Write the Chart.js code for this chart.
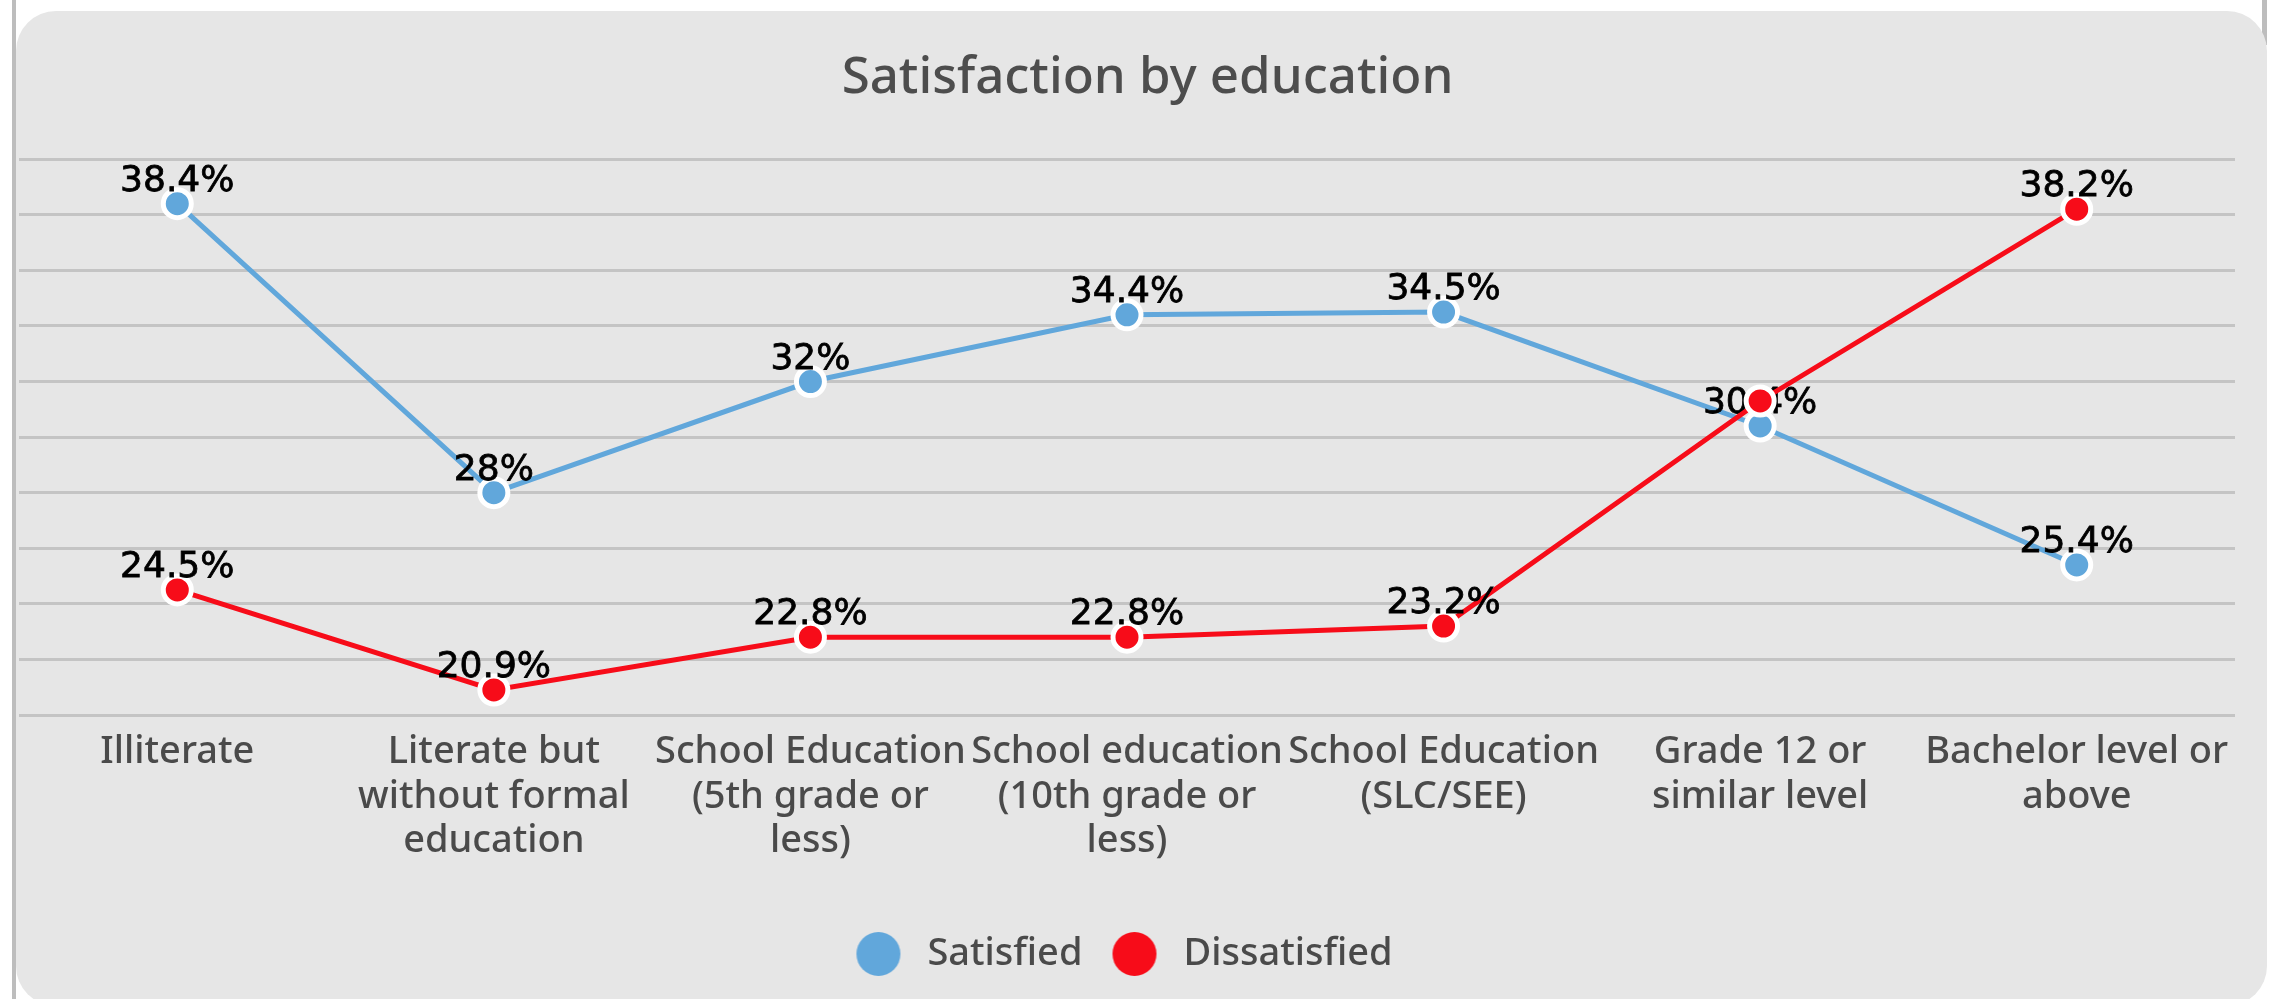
<!DOCTYPE html>
<html>
<head>
<meta charset="utf-8">
<script src="https://cdn.jsdelivr.net/npm/chart.js@4.4.1/dist/chart.umd.min.js"></script>
<style>
  html, body { margin: 0; padding: 0; background: #fff; width: 2281px; height: 999px; overflow: hidden; }
  .bar-left { position: absolute; left: 12px; top: 0; width: 4px; height: 999px; background: #bdbdbd; }
  .bar-right { position: absolute; left: 2262px; top: 0; width: 5px; height: 45px; background: #bdbdbd; }
  .card { position: absolute; left: 16px; top: 11px; width: 2251px; height: 995px; background: #e6e6e6; border-radius: 40px; }
  .wrap { position: absolute; left: 0; top: 0; width: 2281px; height: 999px; }
</style>
</head>
<body>
<div class="bar-left"></div>
<div class="bar-right"></div>
<div class="card"></div>
<div class="wrap"><canvas id="myChart"></canvas></div>
<script>
// data
const categories = [
  'Illiterate',
  ['Literate but', 'without formal', 'education'],
  ['School Education', '(5th grade or', 'less)'],
  ['School education', '(10th grade or', 'less)'],
  ['School Education', '(SLC/SEE)'],
  ['Grade 12 or', 'similar level'],
  ['Bachelor level or', 'above']
];
const satisfied = [38.4, 28, 32, 34.4, 34.5, 30.4, 25.4];
const dissatisfied = [24.5, 20.9, 22.8, 22.8, 23.2, 31.3, 38.2];
const seriesNames = ['Satisfied', 'Dissatisfied'];
const yMin = 20, yMax = 40, yStep = 2;

const blue = '#61a7db';
const red = '#f70c19';
const textGrey = '#4a4a4a';

// legend dots: circle with some room on the left so the gaps look right
function makeDot(color) {
  const c = document.createElement('canvas');
  c.width = 72; c.height = 44;
  const g = c.getContext('2d');
  g.fillStyle = color;
  g.beginPath();
  g.arc(42, 22, 22, 0, Math.PI * 2);
  g.fill();
  return c;
}
const legendDots = [makeDot(blue), makeDot(red)];

// value labels drawn after each dataset, skipping ones that would collide
const pointLabels = {
  id: 'pointLabels',
  beforeDatasetsDraw(chart) { chart.$labelBoxes = []; },
  afterDatasetDraw(chart, args) {
    const ctx = chart.ctx;
    const ds = chart.data.datasets[args.index];
    ctx.save();
    ctx.font = '36px "DejaVu Sans"';
    ctx.fillStyle = '#000';
    ctx.strokeStyle = '#000';
    ctx.lineWidth = 0.8;
    ctx.textAlign = 'center';
    ctx.textBaseline = 'alphabetic';
    args.meta.data.forEach((pt, i) => {
      const text = ds.data[i] + '%';
      const w = ctx.measureText(text).width;
      const box = {l: pt.x - w / 2, r: pt.x + w / 2, t: pt.y - 13 - 26, b: pt.y - 13};
      const hit = chart.$labelBoxes.some(o => box.l < o.r && box.r > o.l && box.t < o.b && box.b > o.t);
      if (hit) return;
      chart.$labelBoxes.push(box);
      ctx.fillText(text, pt.x, pt.y - 13);
      ctx.strokeText(text, pt.x, pt.y - 13);
    });
    ctx.restore();
  }
};

// nudge title / legend to where they sit in the original
const nudge = {
  id: 'nudge',
  afterLayout(chart) {
    chart.titleBlock.left += 25;
    chart.titleBlock.right += 25;
    chart.legend.left -= 8;
    chart.legend.right -= 8;
  }
};

function lineSet(name, values, color, order) {
  return {
    label: name,
    data: values,
    borderColor: color,
    backgroundColor: color,
    borderWidth: 5,
    tension: 0,
    pointRadius: 14,
    pointHoverRadius: 14,
    pointBorderWidth: 5,
    pointBorderColor: '#fff',
    pointBackgroundColor: color,
    order: order
  };
}

const data = {
  labels: categories,
  datasets: [
    lineSet(seriesNames[0], satisfied, blue, 2),
    lineSet(seriesNames[1], dissatisfied, red, 1)
  ]
};

const config = {
  type: 'line',
  data: data,
  options: {
    responsive: true,
    maintainAspectRatio: false,
    devicePixelRatio: 1,
    animation: false,
    layout: { padding: { left: 10, right: 46, top: 0, bottom: 16 } },
    scales: {
      x: {
        offset: true,
        grid: { display: false, drawTicks: false },
        border: { display: false },
        ticks: {
          autoSkip: false,
          maxRotation: 0,
          minRotation: 0,
          padding: 15,
          color: textGrey,
          font: { family: 'Noto Sans', size: 38, weight: 500, lineHeight: 1.17 }
        },
        afterFit(scale) { scale.height = 210; }
      },
      y: {
        min: yMin,
        max: yMax,
        ticks: { display: false, stepSize: yStep },
        grid: { color: '#c4c4c4', lineWidth: 3, drawTicks: false },
        border: { display: false }
      }
    },
    plugins: {
      title: {
        display: true,
        text: 'Satisfaction by education',
        color: '#4d4d4d',
        font: { family: 'Noto Sans', size: 51, weight: 500, lineHeight: 1.2 },
        padding: { top: 48, bottom: 50 }
      },
      legend: {
        position: 'bottom',
        reverse: true,
        labels: {
          usePointStyle: true,
          pointStyleWidth: 72,
          padding: 10,
          color: textGrey,
          font: { family: 'Noto Sans', size: 38, weight: 500 },
          generateLabels(chart) {
            const items = Chart.defaults.plugins.legend.labels.generateLabels(chart);
            items.forEach(it => { it.pointStyle = legendDots[it.datasetIndex]; });
            return items;
          }
        }
      },
      tooltip: { enabled: false }
    }
  },
  plugins: [pointLabels, nudge]
};

const ctx = document.getElementById('myChart').getContext('2d');
const myChart = new Chart(ctx, config);
</script>
</body>
</html>
